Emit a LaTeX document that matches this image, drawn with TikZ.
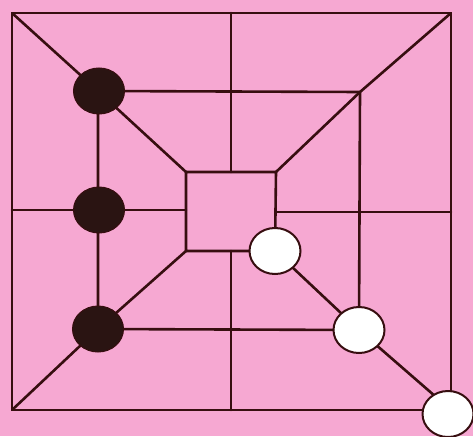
\documentclass[tikz,border=0pt]{standalone}
\usetikzlibrary{shapes.geometric}
\definecolor{bgpink}{RGB}{246,168,210}
\definecolor{ink}{RGB}{55,14,16}
\definecolor{piece}{RGB}{42,20,18}
\tikzset{
  boardline/.style={draw=ink, line width=2.6pt, line cap=round, line join=round},
  blackpiece/.style={ellipse, draw=ink, fill=piece, line width=1pt, minimum width=51pt, minimum height=46pt, inner sep=0pt},
  whitepiece/.style={ellipse, draw=ink, fill=white, line width=2pt, minimum width=51pt, minimum height=46pt, inner sep=0pt}
}
\begin{document}
\begin{tikzpicture}[x=1pt,y=-1pt]
\fill[bgpink] (0,0) rectangle (473,436);
\useasboundingbox (0,0) rectangle (473,436);
% outer square
\coordinate (o1) at (12,13); \coordinate (o2) at (451,13);
\coordinate (o3) at (451,410); \coordinate (o4) at (12,410);
% middle square
\coordinate (m1) at (98,91); \coordinate (m2) at (360,92);
\coordinate (m3) at (359,330); \coordinate (m4) at (98,329);
% inner square
\coordinate (i1) at (186,172); \coordinate (i2) at (276,172);
\coordinate (i3) at (275,251); \coordinate (i4) at (186,251);
% midpoints
\coordinate (ot) at (231,13); \coordinate (it) at (231,172);
\coordinate (ob) at (231,410); \coordinate (ib) at (231,251);
\coordinate (ol) at (12,210); \coordinate (il) at (186,210);
\coordinate (or) at (451,212); \coordinate (ir) at (276,212);
\draw[boardline] (o1) -- (o2) -- (o3) -- (o4) -- cycle;
\draw[boardline] (m1) -- (m2) -- (m3) -- (m4) -- cycle;
\draw[boardline] (i1) -- (i2) -- (i3) -- (i4) -- cycle;
\draw[boardline] (o1) -- (m1) -- (i1);
\draw[boardline] (o2) -- (m2) -- (i2);
\draw[boardline] (o3) -- (m3) -- (i3);
\draw[boardline] (o4) -- (m4) -- (i4);
\draw[boardline] (ot) -- (it);
\draw[boardline] (ob) -- (ib);
\draw[boardline] (ol) -- (il);
\draw[boardline] (or) -- (ir);
% pieces
\node[blackpiece] (b1) at (99,91) {};
\node[blackpiece] (b2) at (99,210) {};
\node[blackpiece] (b3) at (98,329) {};
\node[whitepiece] (w1) at (275,251) {};
\node[whitepiece] (w2) at (359,330) {};
\node[whitepiece] (w3) at (448,414) {};
\end{tikzpicture}
\end{document}
